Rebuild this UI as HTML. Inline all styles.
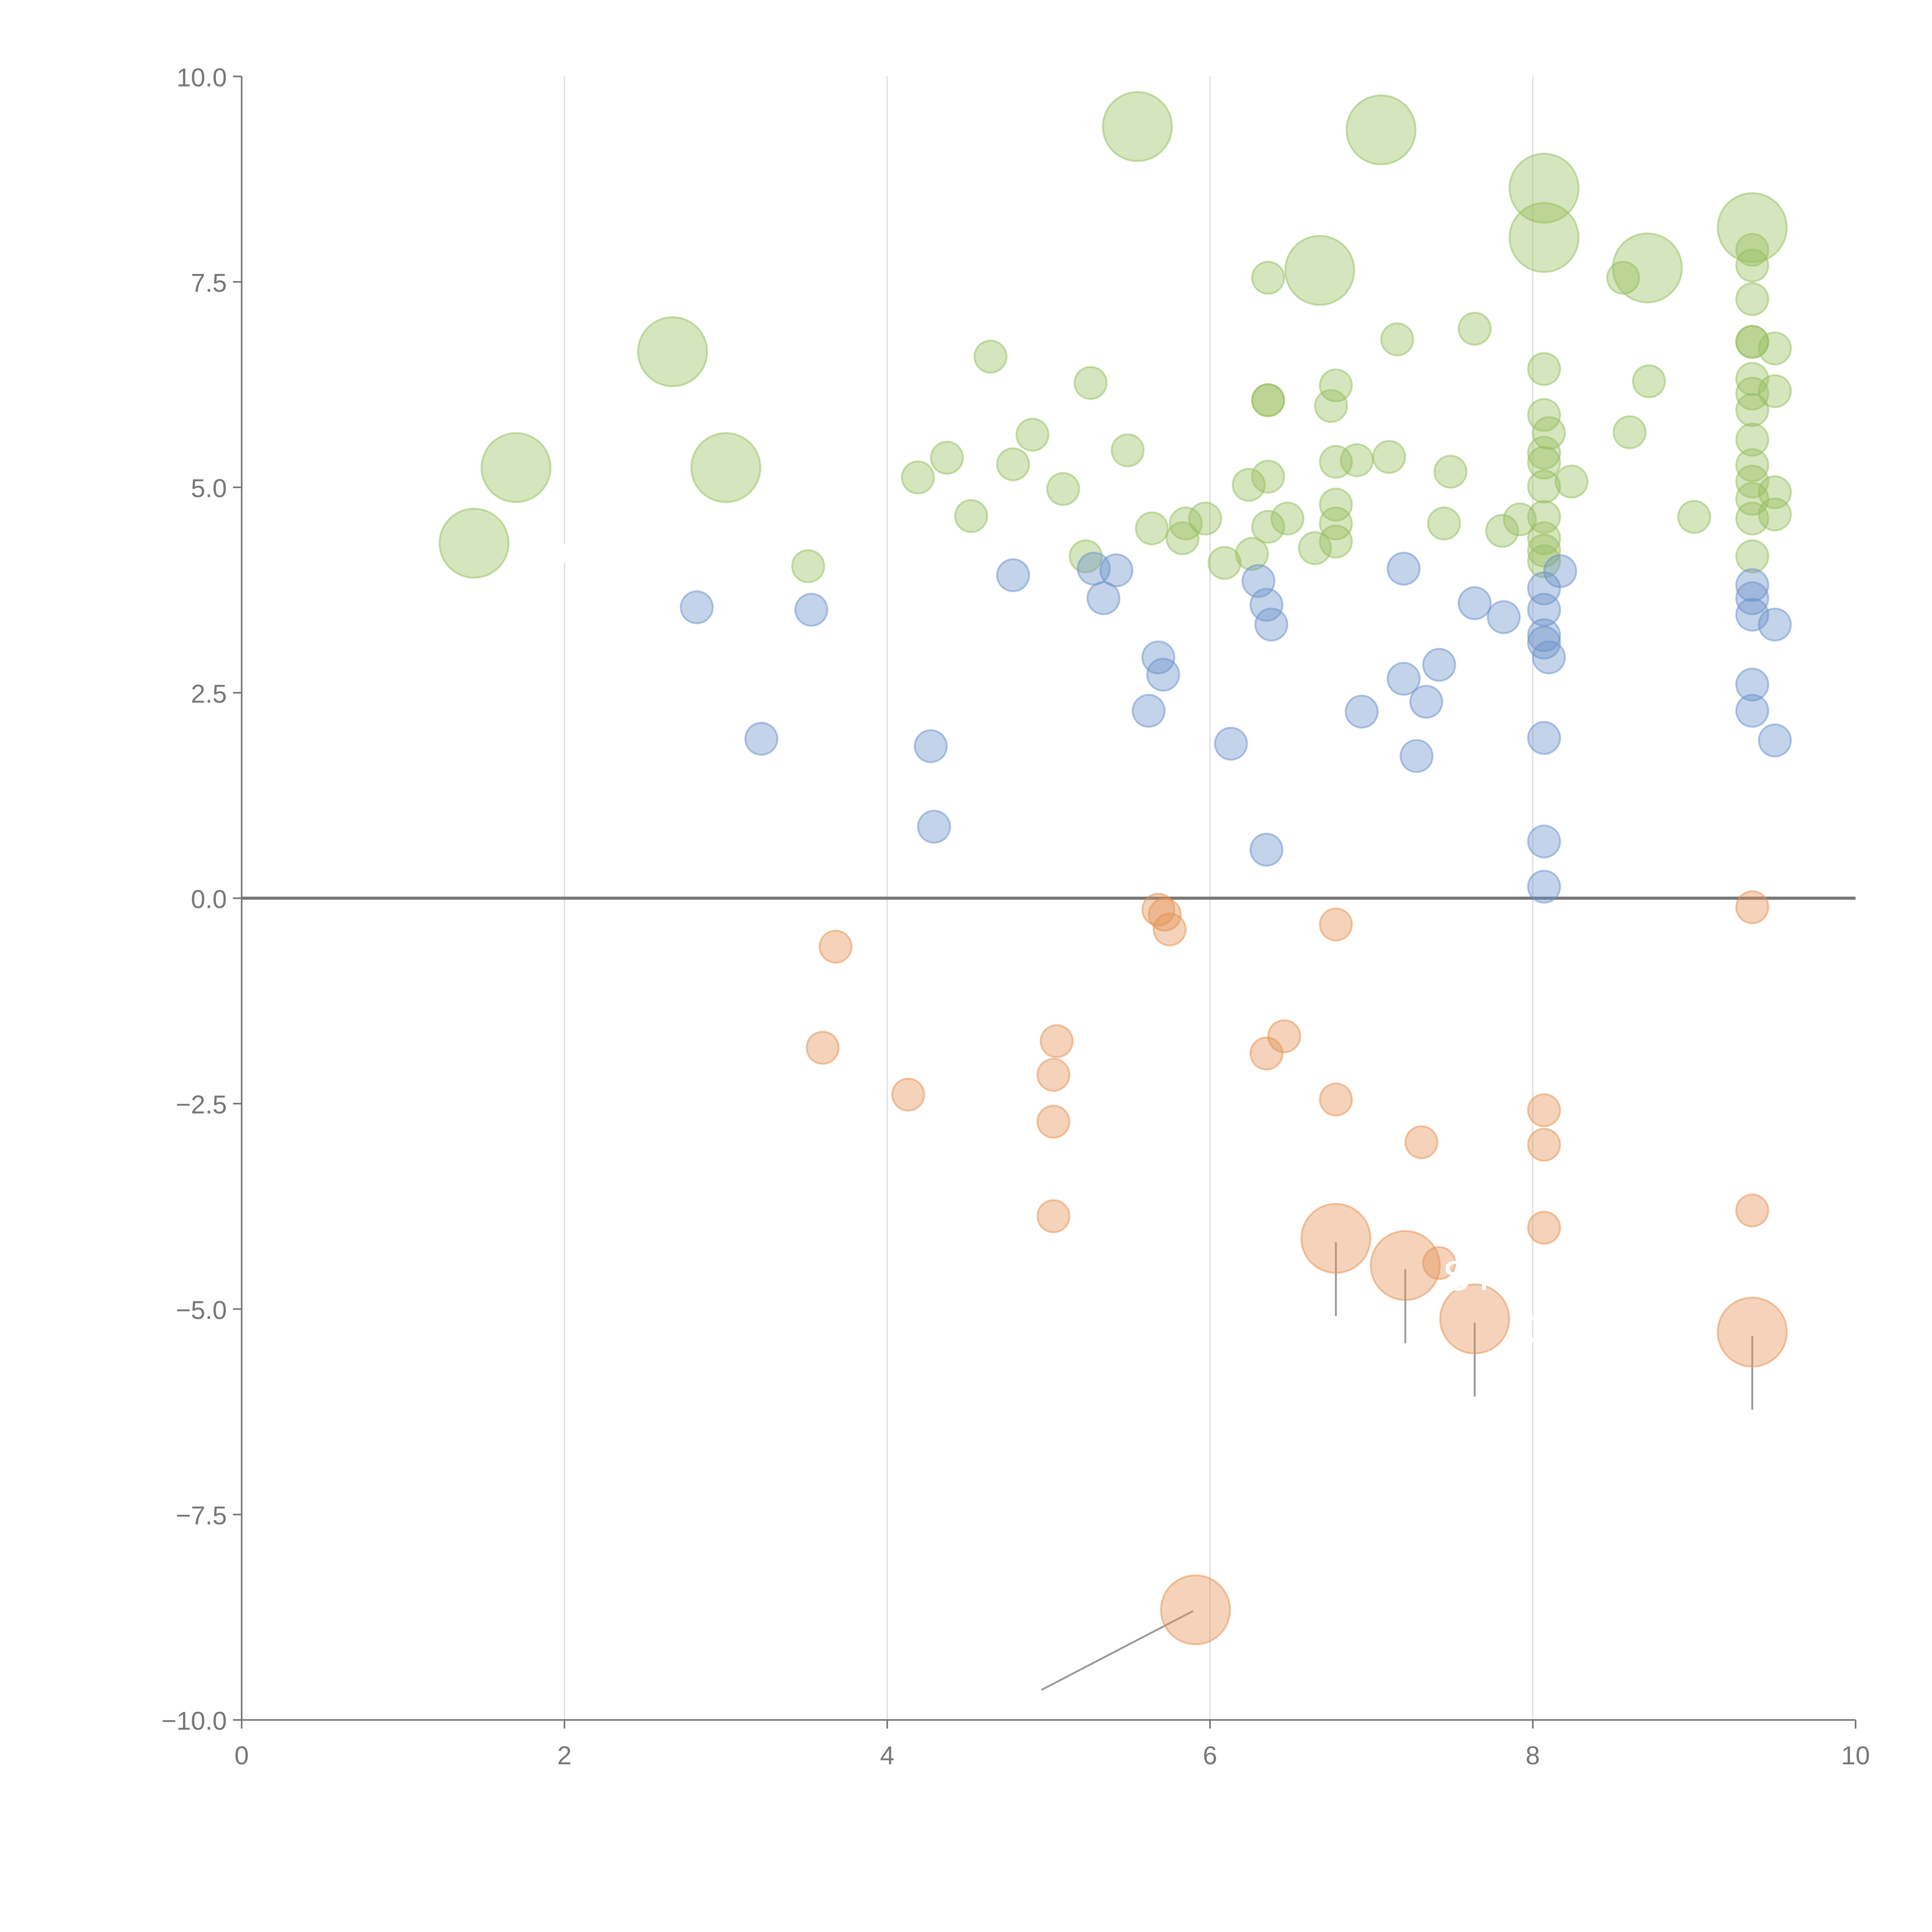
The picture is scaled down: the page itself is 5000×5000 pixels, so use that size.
<!DOCTYPE html>
<html><head><meta charset="utf-8"><style>
html,body{margin:0;padding:0;background:#fff;}
svg{display:block;}
text{font-family:"Liberation Sans",sans-serif;}
</style></head><body>
<svg id="chart" width="5000" height="5000" viewBox="0 0 1567 1567" xmlns="http://www.w3.org/2000/svg">
<g id="grid"></g>
<g id="axes"></g>
<g id="leaders"></g>
<g id="marks"></g>
<g id="labels"></g>
</svg>
<script>
const xTicks=[0,2,4,6,8,10];
const yTicks=[-10,-7.5,-5,-2.5,0,2.5,5,7.5,10];
const yTickLabels=["−10.0","−7.5","−5.0","−2.5","0.0","2.5","5.0","7.5","10.0"];
const greenSmall=[[3.51,4.04],[4.19,5.12],[4.37,5.36],[4.52,4.65],[4.64,6.59],[4.78,5.28],[4.90,5.64],[5.09,4.98],[5.23,4.16],[5.26,6.27],[5.49,5.45],[5.64,4.50],[5.83,4.38],[5.85,4.56],[5.97,4.62],[6.09,4.08],[6.24,5.03],[6.26,4.19],[6.36,5.13],[6.36,4.52],[6.36,6.06],[6.36,6.06],[6.36,7.55],[6.48,4.62],[6.65,4.26],[6.75,5.99],[6.78,6.24],[6.78,5.31],[6.78,4.79],[6.78,4.56],[6.78,4.34],[6.91,5.33],[7.11,5.37],[7.16,6.80],[7.45,4.56],[7.49,5.19],[7.64,6.93],[7.81,4.47],[7.92,4.61],[8.07,6.44],[8.07,5.88],[8.10,5.66],[8.07,5.42],[8.07,5.30],[8.07,5.01],[8.07,4.64],[8.07,4.38],[8.07,4.23],[8.07,4.10],[8.24,5.07],[8.56,7.55],[8.60,5.67],[8.72,6.29],[9.00,4.64],[9.36,7.89],[9.36,7.70],[9.36,7.29],[9.36,6.77],[9.36,6.77],[9.36,6.32],[9.36,6.14],[9.36,5.94],[9.36,5.58],[9.36,5.27],[9.36,5.07],[9.36,4.86],[9.36,4.62],[9.36,4.16],[9.50,6.69],[9.50,6.17],[9.50,4.94],[9.50,4.67]];
const greenBig=[[1.44,4.32],[1.70,5.24],[2.67,6.65],[3.00,5.24],[5.55,9.39],[7.06,9.35],[6.68,7.64],[8.07,8.64],[8.07,8.04],[8.71,7.67],[9.36,8.16]];
const blueSmall=[[2.82,3.54],[3.53,3.51],[3.22,1.94],[4.27,1.85],[4.29,0.87],[4.78,3.93],[5.28,4.01],[5.42,3.99],[5.34,3.65],[5.68,2.93],[5.71,2.72],[5.62,2.28],[6.13,1.88],[6.30,3.86],[6.35,3.57],[6.38,3.33],[6.35,0.59],[6.94,2.27],[7.20,4.01],[7.20,2.67],[7.34,2.39],[7.42,2.84],[7.28,1.73],[7.64,3.59],[7.82,3.42],[8.07,3.77],[8.07,3.51],[8.07,3.20],[8.07,3.11],[8.10,2.93],[8.17,3.98],[8.07,1.95],[8.07,0.69],[8.07,0.14],[9.36,3.81],[9.36,3.65],[9.36,3.45],[9.36,2.60],[9.36,2.28],[9.50,3.33],[9.50,1.92]];
const orangeSmall=[[3.68,-0.59],[3.60,-1.82],[4.13,-2.39],[5.05,-1.74],[5.03,-2.15],[5.03,-2.72],[5.03,-3.87],[5.68,-0.14],[5.72,-0.20],[5.75,-0.38],[6.35,-1.89],[6.46,-1.68],[6.78,-0.32],[6.78,-2.45],[7.31,-2.97],[7.42,-4.44],[8.07,-2.58],[8.07,-3.00],[8.07,-4.01],[9.36,-0.11],[9.36,-3.80]];
const orangeBig=[[6.78,-4.14],[7.21,-4.47],[7.64,-5.12],[9.36,-5.28],[5.91,-8.66]];
const bigLabels=[["ADP",1.44,4.32],["PFE",7.06,9.35],["LOW",6.68,7.64],["SYY",7.21,-4.47],["DXT",7.64,-5.12]];

const NS="http://www.w3.org/2000/svg";
const X0=196,X1=1505,Y0=1395,Y1=62;
function sx(v){return X0+(v-0)/(10-0)*(X1-X0);}
function sy(v){return Y0-(v+10)/20*(Y0-Y1);}
function mk(tag,attrs,parent){const e=document.createElementNS(NS,tag);for(const k in attrs)e.setAttribute(k,attrs[k]);parent.appendChild(e);return e;}
const grid=document.getElementById('grid'),axes=document.getElementById('axes'),marks=document.getElementById('marks'),leaders=document.getElementById('leaders'),labels=document.getElementById('labels');

xTicks.forEach(t=>{
  if(t>0&&t<10){const l=mk('line',{x1:sx(t),x2:sx(t),y1:Y1,y2:Y0,stroke:'#dddddd','stroke-width':1},grid);
  
  }
  const tk=mk('line',{x1:sx(t),x2:sx(t),y1:Y0,y2:Y0+7,stroke:'#777','stroke-width':1.3},axes);
  
  
  const tx=mk('text',{x:sx(t),y:Y0+36,'text-anchor':'middle','font-size':21,fill:'#777'},axes);
  tx.textContent=t;
  
  
});
yTicks.forEach((t,i)=>{
  const tk=mk('line',{x1:X0-7,x2:X0,y1:sy(t),y2:sy(t),stroke:'#777','stroke-width':1.3},axes);
  
  
  const tx=mk('text',{x:X0-12,y:sy(t)+8,'text-anchor':'end','font-size':21,fill:'#777'},axes);
  tx.textContent=yTickLabels[i];
  
  
});
const ya=mk('line',{x1:X0,x2:X0,y1:Y1,y2:Y0,stroke:'#777','stroke-width':1.3},axes);


const xa=mk('line',{x1:X0,x2:X1,y1:Y0,y2:Y0,stroke:'#777','stroke-width':1.3},axes);


const zl=mk('line',{x1:X0,x2:X1,y1:sy(0),y2:sy(0),stroke:'#777','stroke-width':2.5},axes);



function drawSet(arr,r,color,name){
  arr.forEach(p=>{
    const c=mk('circle',{cx:sx(p[0]),cy:sy(p[1]),r:r,fill:color,'fill-opacity':0.4,stroke:color,'stroke-opacity':0.5,'stroke-width':1.5},marks);
    
    
  });
}
drawSet(greenSmall,13,'#95bd5c','bubble-positive-high');
drawSet(blueSmall,13,'#6a90c9','bubble-positive-low');
drawSet(orangeSmall,13,'#e39152','bubble-negative');
drawSet(greenBig,28,'#95bd5c','bubble-positive-large');
drawSet(orangeBig,28,'#e39152','bubble-negative-large');

orangeBig.forEach((p,i)=>{
  const x=sx(p[0]),y=sy(p[1]);
  const l= i===4 ? mk('line',{x1:x-2,y1:y+1,x2:x-125,y2:y+65,stroke:'#999','stroke-width':1.5},leaders)
                 : mk('line',{x1:x,y1:y+3,x2:x,y2:y+63,stroke:'#999','stroke-width':1.5},leaders);
  
  
});
bigLabels.forEach(b=>{
  const t=mk('text',{x:sx(b[1])+30,y:sy(b[2])+20,'font-size':34,fill:'#fff'},labels);
  t.textContent=b[0];
  
  
});
</script>
</body></html>
